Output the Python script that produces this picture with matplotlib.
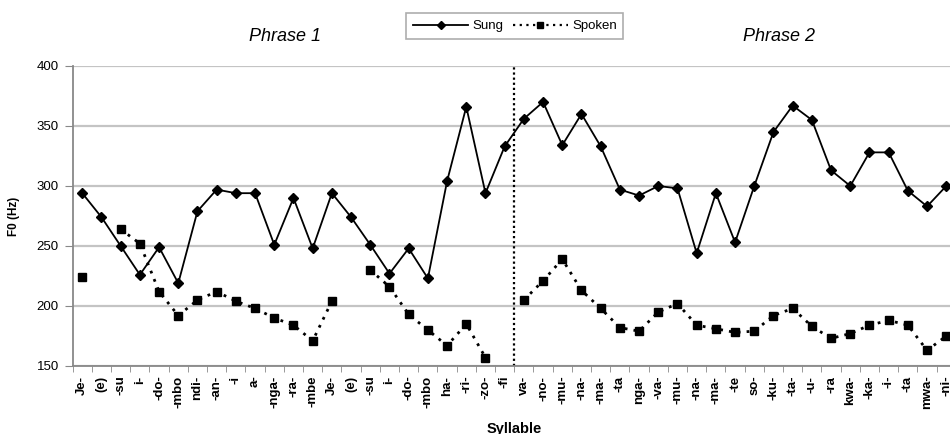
import matplotlib
matplotlib.use("Agg")
import matplotlib.pyplot as plt
from matplotlib.lines import Line2D
import numpy as np

plt.rcParams['font.family'] = ['Liberation Sans', 'DejaVu Sans']

syllables = ["Je-", "(e)", "-su", "i-", "-do-", "-mbo", "ndi-", "-an-", "-i", "a-",
             "-nga-", "-ra-", "-mbe", "Je-", "(e)", "-su", "i-", "-do-", "-mbo", "ha-",
             "-ri-", "-zo-", "-fi",
             "va-", "-no-", "-mu-", "-na-", "-ma-", "-ta", "nga-", "-va-", "-mu-", "-na-",
             "-ma-", "-te", "so-", "-ku-", "-ta-", "-u-", "-ra", "kwa-", "-ka-", "-i-",
             "-ta", "mwa-", "-ni-"]

sung = [294, 274, 250, 226, 249, 219, 279, 297, 294, 294,
        251, 290, 248, 294, 274, 251, 227, 248, 223, 304,
        366, 294, 333,
        356, 370, 334, 360, 333, 297, 292, 300, 298, 244,
        294, 253, 300, 345, 367, 355, 313, 300, 328, 328,
        296, 283, 300]

nan = np.nan
spoken = [224, nan, 264, 252, 212, 192, 205, 212, 204, 198,
          190, 184, 171, 204, nan, 230, 216, 193, 180, 167,
          185, 157, nan,
          205, 221, 239, 213, 198, 182, 179, 195, 202, 184,
          181, 178, 179, 192, 198, 183, 173, 177, 184, 188,
          184, 163, 175]

x = np.arange(len(syllables))

fig = plt.figure(figsize=(9.5, 4.34), dpi=100)
ax = fig.add_axes([0.0765, 0.1567, 0.9297, 0.6913])

ax.set_xlim(-0.5, len(syllables) - 0.5)
ax.set_ylim(150, 400)
ax.set_yticks([150, 200, 250, 300, 350, 400])
ax.grid(axis='y', color='#c4c4c4', linewidth=1.6)
ax.set_axisbelow(True)

ax.plot(x, sung, color='black', linewidth=1.3, marker='D', markersize=5, label='Sung')
ax.plot(x, spoken, color='black', linewidth=2, linestyle=(0, (1, 2.2)),
        marker='s', markersize=5.5, label='Spoken')

ax.axvline(22.5, color='black', linewidth=1.6, linestyle=(0, (1, 1.3)))

for s in ['top', 'right']:
    ax.spines[s].set_visible(False)
for s in ['left', 'bottom']:
    ax.spines[s].set_color('#888888')
    ax.spines[s].set_linewidth(1.3)

ax.set_xticks(x)
ax.set_xticklabels(syllables, rotation=90, fontsize=9.5, fontweight='bold')
ax.set_xticks(np.arange(-0.5, len(syllables), 1), minor=True)
ax.tick_params(axis='x', which='major', length=0, pad=7)
ax.tick_params(axis='x', which='minor', length=4, color='#888888')
ax.tick_params(axis='y', length=6, color='#888888', labelsize=9.5, pad=4)

ax.set_ylabel('F0 (Hz)', fontsize=8.5, fontweight='bold', labelpad=12)
ax.set_xlabel('Syllable', fontsize=10.5, fontweight='bold', labelpad=9)

fig.text(0.30, 0.915, 'Phrase 1', fontsize=13, style='italic', ha='center', va='center')
fig.text(0.82, 0.915, 'Phrase 2', fontsize=13, style='italic', ha='center', va='center')

handles = [Line2D([], [], color='black', linewidth=1.3, marker='D', markersize=4),
           Line2D([], [], color='black', linewidth=1.6, linestyle=(0, (1, 2)),
                  marker='s', markersize=4)]
leg = fig.legend(handles, ['Sung', 'Spoken'], loc='center', bbox_to_anchor=(0.542, 0.94),
                 ncol=2, fontsize=9.5, frameon=True, fancybox=False, handlelength=4.2,
                 columnspacing=0.7, handletextpad=0.3, borderpad=0.5)
leg.get_frame().set_edgecolor('#999999')
leg.get_frame().set_linewidth(1.2)

fig.savefig('out.png', dpi=100)
